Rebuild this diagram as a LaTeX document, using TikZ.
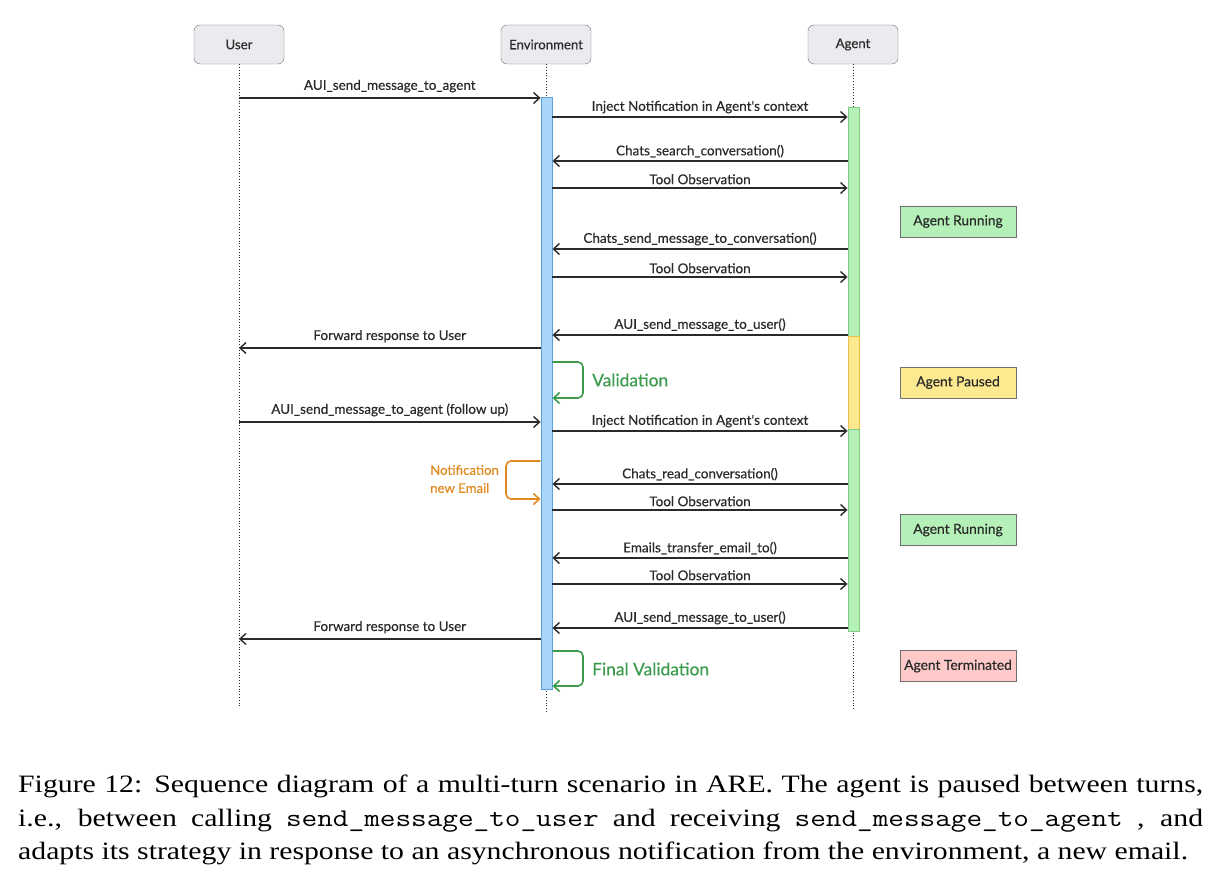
\documentclass[tikz,border=0pt]{standalone}
\usepackage{fontspec}
\setmainfont{Liberation Serif}
\newfontfamily\dfont{Lato}[FakeBold=0.35]
\usetikzlibrary{arrows.meta}
\definecolor{hdrfill}{HTML}{E9EBEE}
\definecolor{hdrdraw}{HTML}{707070}
\definecolor{envfill}{HTML}{A9D5FA}
\definecolor{envdraw}{HTML}{5E9FD8}
\definecolor{runfill}{HTML}{B5F0B9}
\definecolor{rundraw}{HTML}{7FCB84}
\definecolor{pausefill}{HTML}{FDE98F}
\definecolor{pausedraw}{HTML}{EEC24A}
\definecolor{termfill}{HTML}{FFC9C9}
\definecolor{valgreen}{HTML}{3C9A4C}
\definecolor{notorange}{HTML}{E0891F}
\definecolor{ink}{HTML}{2A2A2A}
\newcommand{\captt}[1]{{\fontsize{25.5}{30}\selectfont\texttt{#1}}}
\tikzset{
  hdr/.style={draw=hdrdraw, fill=hdrfill, rounded corners=6pt, minimum width=90pt, minimum height=39pt, inner sep=0pt, font=\dfont\fontsize{13.2}{15}\selectfont, text=ink},
  life/.style={draw=ink, line width=0.8pt, dotted},
  bar/.style={minimum width=11pt, inner sep=0pt, line width=0.9pt},
  msg/.style={draw=ink, line width=1.4pt, -{Straight Barb[length=6pt,width=11pt,line width=1.4pt]}},
  lbl/.style={font=\dfont\fontsize{13.5}{16}\selectfont, text=ink, inner sep=3pt},
  loopv/.style={draw=valgreen, line width=1.6pt, rounded corners=5pt, -{Straight Barb[length=6pt,width=11pt,line width=1.6pt]}},
  loopn/.style={draw=notorange, line width=1.6pt, rounded corners=5pt, -{Straight Barb[length=6pt,width=11pt,line width=1.6pt]}},
  status/.style={draw=hdrdraw, minimum width=116pt, minimum height=31pt, inner sep=0pt, font=\dfont\fontsize{13.8}{16}\selectfont, text=ink},
  captionline/.style={anchor=base west, inner sep=0pt, font=\fontsize{25}{30}\selectfont}
}
\begin{document}
\begin{tikzpicture}[x=1pt, y=-1pt]
\useasboundingbox (0,0) rectangle (1219,872);
% headers
\node[hdr] (user) at (239,44.5) {User};
\node[hdr] (env) at (546,44.5) {Environment};
\node[hdr] (agent) at (853,44.5) {Agent};
\coordinate (userend) at (239,708);
\coordinate (envend) at (546,712);
\coordinate (agentend) at (853,710);
\draw[life] (user.south) -- (userend);
\draw[life] (env.south) -- (envend);
\draw[life] (agent.south) -- (agentend);
% activation bars
\node[bar, draw=envdraw, fill=envfill, minimum height=592pt] (ebar) at (546.5,393) {};
\node[bar, draw=rundraw, fill=runfill, minimum height=229pt] (abar1) at (853.5,221.5) {};
\node[bar, draw=pausedraw, fill=pausefill, minimum height=93pt] (abar2) at (853.5,382.5) {};
\node[bar, draw=rundraw, fill=runfill, minimum height=202pt] (abar3) at (853.5,530) {};
% messages
\draw[msg] (user |- 0,98) -- node[lbl, above=2pt] {AUI\_send\_message\_to\_agent} (ebar.west |- 0,98);
\draw[msg] (ebar.east |- 0,117) -- node[lbl, above] {Inject Notification in Agent's context} (abar1.west |- 0,117);
\draw[msg] (abar1.west |- 0,161) -- node[lbl, above] {Chats\_search\_conversation()} (ebar.east |- 0,161);
\draw[msg] (ebar.east |- 0,188) -- node[lbl, above] {Tool Observation} (abar1.west |- 0,188);
\draw[msg] (abar1.west |- 0,249) -- node[lbl, above] {Chats\_send\_message\_to\_conversation()} (ebar.east |- 0,249);
\draw[msg] (ebar.east |- 0,277) -- node[lbl, above] {Tool Observation} (abar1.west |- 0,277);
\draw[msg] (abar1.west |- 0,335) -- node[lbl, above] {AUI\_send\_message\_to\_user()} (ebar.east |- 0,335);
\draw[msg] (ebar.west |- 0,348) -- node[lbl, above=2pt] {Forward response to User} (user |- 0,348);
\draw[loopv] (ebar.east |- 0,362) -- (583,362) -- (583,398) -- (ebar.east |- 0,398);
\node[anchor=west, font=\dfont\fontsize{17.4}{20}\selectfont, text=valgreen, inner sep=0pt] (val) at (592,380) {Validation};
\draw[msg] (user |- 0,422) -- node[lbl, above=2pt] {AUI\_send\_message\_to\_agent (follow up)} (ebar.west |- 0,422);
\draw[msg] (ebar.east |- 0,431) -- node[lbl, above] {Inject Notification in Agent's context} (abar3.west |- 0,431);
\draw[loopn] (ebar.west |- 0,461) -- (506,461) -- (506,499) -- (ebar.west |- 0,499);
\node[anchor=west, align=left, font=\dfont\fontsize{13.2}{18}\selectfont, text=notorange, inner sep=0pt] (notif) at (430,479) {Notification\\new Email};
\draw[msg] (abar3.west |- 0,484) -- node[lbl, above] {Chats\_read\_conversation()} (ebar.east |- 0,484);
\draw[msg] (ebar.east |- 0,510) -- node[lbl, above] {Tool Observation} (abar3.west |- 0,510);
\draw[msg] (abar3.west |- 0,558) -- node[lbl, above] {Emails\_transfer\_email\_to()} (ebar.east |- 0,558);
\draw[msg] (ebar.east |- 0,584) -- node[lbl, above] {Tool Observation} (abar3.west |- 0,584);
\draw[msg] (abar3.west |- 0,628) -- node[lbl, above] {AUI\_send\_message\_to\_user()} (ebar.east |- 0,628);
\draw[msg] (ebar.west |- 0,639) -- node[lbl, above=2pt] {Forward response to User} (user |- 0,639);
\draw[loopv] (ebar.east |- 0,651) -- (583,651) -- (583,686) -- (ebar.east |- 0,686);
\node[anchor=west, font=\dfont\fontsize{17.4}{20}\selectfont, text=valgreen, inner sep=0pt] (fval) at (592,669) {Final Validation};
% status boxes
\node[status, fill=runfill] (s1) at (958,221.5) {Agent Running};
\node[status, fill=pausefill] (s2) at (958,382.5) {Agent Paused};
\node[status, fill=runfill] (s3) at (958,530) {Agent Running};
\node[status, fill=termfill] (s4) at (958,666) {Agent Terminated};
% caption
\node[captionline] (c1) at (18,792) {\scalebox{1.19}[1]{\makebox[995.8pt][s]{Figure 12: Sequence diagram of a multi-turn scenario in ARE. The agent is paused between turns,}}};
\node[captionline] (c2) at (18,826) {\scalebox{1.19}[1]{\makebox[995.8pt][s]{i.e., between calling \captt{send\_message\_to\_user} and receiving \captt{send\_message\_to\_agent} , and}}};
\node[captionline] (c3) at (18,859) {\scalebox{1.19}[1]{adapts its strategy in response to an asynchronous notification from the environment, a new email.}};
\end{tikzpicture}
\end{document}
